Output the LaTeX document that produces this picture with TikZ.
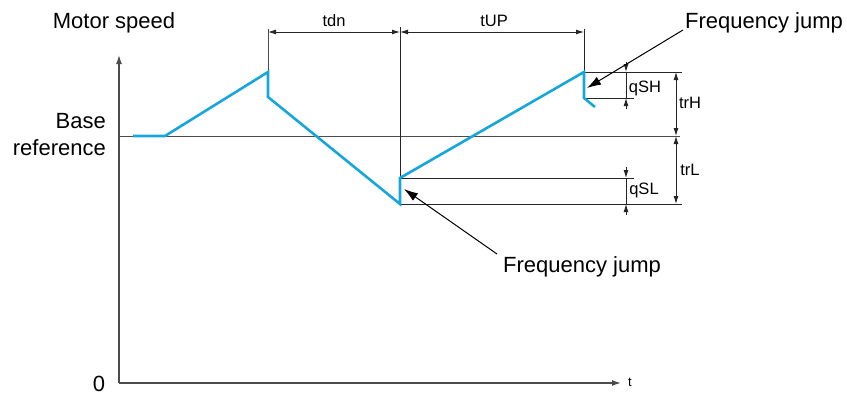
\documentclass[tikz,border=0pt]{standalone}
\usepackage{fontspec}
\setmainfont{Liberation Sans}
\usetikzlibrary{arrows.meta}
\definecolor{speedblue}{RGB}{22,166,218}
\begin{document}
\begin{tikzpicture}[x=1pt,y=-1pt,
  axis/.style={draw=black!70, line width=1.3pt},
  thinl/.style={draw=black!85, line width=0.9pt},
  curve/.style={draw=speedblue, line width=2.6pt, line join=miter},
  dimarr/.style={thinl, {Latex[length=8pt,width=5pt]}-{Latex[length=8pt,width=5pt]}},
  outarr/.style={thinl, -{Latex[length=8pt,width=5pt]}},
  jumparr/.style={draw=black, line width=1pt, -{Latex[length=14pt,width=9pt]}},
  lbl/.style={font=\fontsize{22}{26}\selectfont, inner sep=0pt},
  dlbl/.style={font=\fontsize{16.5}{19}\selectfont, inner sep=0pt},
]
\useasboundingbox (0,0) rectangle (847,394);
% axes
\coordinate (O) at (119,383);
\coordinate (Ytip) at (119,55);
\coordinate (Xtip) at (621,383);
\draw[axis, -{Latex[length=9pt,width=6pt]}] (O) -- (Ytip);
\draw[axis, -{Latex[length=9pt,width=6pt]}] (O) -- (Xtip);
% base reference
\coordinate (B0) at (119,136);
\coordinate (B1) at (680,136);
\draw[axis, line width=1pt] (B0) -- (B1);
% key points
\coordinate (P1) at (133,136);
\coordinate (P2) at (165,136);
\coordinate (P3) at (268,72);
\coordinate (P4) at (268,97);
\coordinate (P5) at (400,204);
\coordinate (P6) at (400,178);
\coordinate (P7) at (584,72);
\coordinate (P8) at (584,98);
\coordinate (P9) at (595,107);
% extension lines
\coordinate (E1) at (268,29);
\coordinate (E2) at (400,27);
\coordinate (E3) at (584,29);
\draw[axis, line width=1pt] (E1) -- (P3);
\draw[thinl] (E2) -- (P5);
\draw[thinl] (E3) -- (P7);
\coordinate (H72) at (682,72);
\coordinate (H98) at (634,98);
\coordinate (H178) at (634,178);
\coordinate (H204) at (682,204);
\draw[thinl] (P7) -- (H72);
\draw[thinl] (P8) -- (H98);
\draw[thinl] (P6) -- (H178);
\draw[thinl] (P5) -- (H204);
% time dimensions
\coordinate (D1) at (268,32);
\coordinate (D2) at (400,32);
\coordinate (D3) at (584,32);
\draw[dimarr] (D1) -- (D2);
\draw[dimarr] (D2) -- (D3);
\node[dlbl] (tdn) at (334,21) {tdn};
\node[dlbl] (tup) at (494,21) {tUP};
% qSH
\coordinate (qa) at (626,62);
\coordinate (qb) at (626,72);
\coordinate (qc) at (626,109);
\coordinate (qd) at (626,98);
\draw[outarr] (qa) -- (qb);
\draw[outarr] (qc) -- (qd);
\draw[thinl] (qb) -- (qd);
\node[dlbl] (qsh) at (645,88) {qSH};
% trH, trL
\coordinate (ta) at (676,72);
\coordinate (tb) at (676,136);
\coordinate (tc) at (676,204);
\draw[dimarr] (ta) -- (tb);
\draw[dimarr] (tb) -- (tc);
\node[dlbl] (trh) at (690,103) {trH};
\node[dlbl] (trl) at (690,170) {trL};
% qSL
\coordinate (sa) at (626,167);
\coordinate (sb) at (626,178);
\coordinate (sc) at (626,215);
\coordinate (sd) at (626,204);
\draw[outarr] (sa) -- (sb);
\draw[outarr] (sc) -- (sd);
\draw[thinl] (sb) -- (sd);
\node[dlbl] (qsl) at (644,190) {qSL};
% speed curve
\draw[curve] (P1) -- (P2) -- (P3) -- (P4) -- (P5) -- (P6) -- (P7) -- (P8) -- (P9);
% frequency jump arrows
\node[lbl, anchor=base west] (fj1) at (685,28) {Frequency jump};
\node[lbl, anchor=base west] (fj2) at (503,272) {Frequency jump};
\coordinate (J1s) at (683,30);
\coordinate (J1e) at (587,88);
\coordinate (J2s) at (497,254);
\coordinate (J2e) at (404,189);
\draw[jumparr] (J1s) -- (J1e);
\draw[jumparr] (J2s) -- (J2e);
% labels
\node[lbl] (ms) at (114,23) {Motor speed};
\node[lbl, anchor=base east] (base) at (106,128) {Base};
\node[lbl, anchor=base east] (ref) at (106,155) {reference};
\node[lbl, anchor=base] (zero) at (99,391) {0};
\node[font=\fontsize{13}{15}\selectfont, inner sep=0pt] (tl) at (630,382) {t};
\end{tikzpicture}
\end{document}
